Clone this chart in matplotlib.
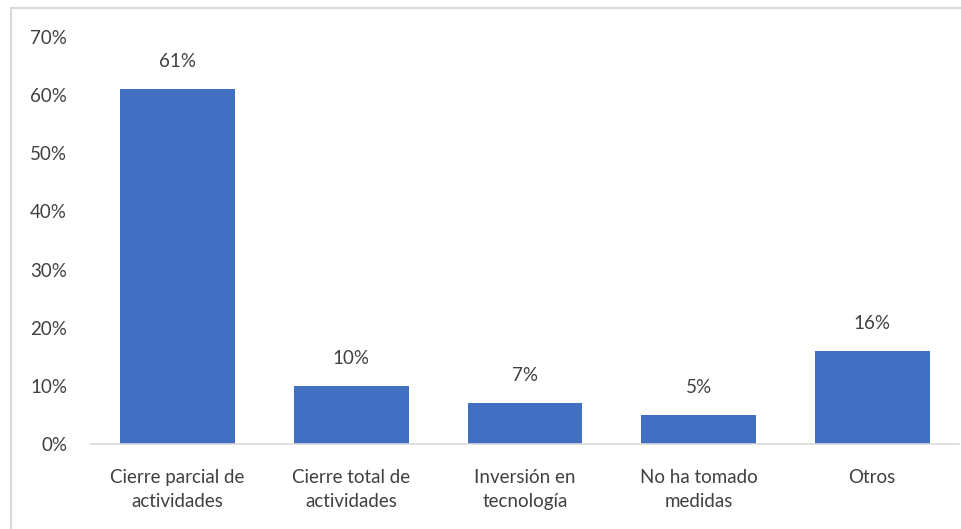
import matplotlib.pyplot as plt
from matplotlib.patches import Rectangle

categorias = ['Cierre parcial de\nactividades', 'Cierre total de\nactividades',
              'Inversión en\ntecnología', 'No ha tomado\nmedidas', 'Otros']
porcentajes = [61, 10, 7, 5, 16]
ticks_y = [0, 10, 20, 30, 40, 50, 60, 70]

plt.rcParams['font.family'] = ['Lato', 'DejaVu Sans']

fig = plt.figure(figsize=(9.61, 5.29), dpi=100)
ax = fig.add_axes([0.0944, 0.1607, 0.9036, 0.7693])

x = range(len(categorias))
barras = ax.bar(x, porcentajes, width=0.66, color='#4170C2')

for xi, v in zip(x, porcentajes):
    ax.annotate(f'{v}%', (xi, v), xytext=(0, 20), textcoords='offset points',
                ha='center', va='center', fontsize=13.5, color='#404040')

ax.set_ylim(0, 70)
ax.set_xlim(-0.5, len(categorias) - 0.5)
ax.set_yticks(ticks_y)
ax.set_yticklabels([f'{t}%' for t in ticks_y], fontsize=13.5, color='#404040')
ax.set_xticks(list(x))
ax.set_xticklabels(categorias, fontsize=13.5, color='#404040', linespacing=1.5)
ax.tick_params(axis='both', length=0)
ax.tick_params(axis='y', pad=17)
ax.tick_params(axis='x', pad=18)

for lado in ['top', 'right', 'left']:
    ax.spines[lado].set_visible(False)
ax.spines['bottom'].set_color('#D9D9D9')
ax.spines['bottom'].set_linewidth(1.2)

# marco gris alrededor del gráfico
fig.patches.append(Rectangle((11 / 961, -0.05), 1.1, 1 - 8 / 529 + 0.05,
                             transform=fig.transFigure, fill=False,
                             edgecolor='#D9D9D9', linewidth=1.5))

fig.savefig('out.png', dpi=100)
